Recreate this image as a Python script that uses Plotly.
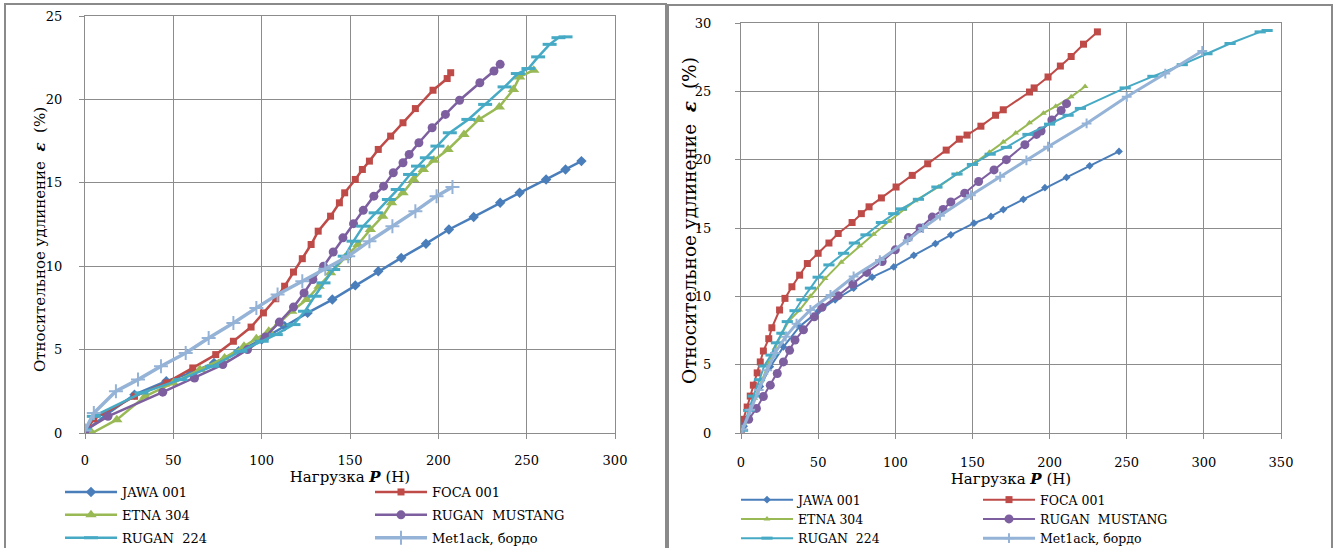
import plotly.graph_objects as go

W, H = 1339, 548

# ---------------- Left panel data ----------------
L_jawa_x = [0, 12, 28, 46, 60, 73, 87, 100, 113, 126, 140, 153, 166, 179, 193, 206, 220, 235, 246, 261, 272, 281]
L_jawa_y = [0.1, 1.1, 2.3, 3.1, 3.6, 4.2, 4.9, 5.6, 6.4, 7.2, 8.0, 8.85, 9.7, 10.5, 11.35, 12.2, 12.95, 13.8, 14.4, 15.2, 15.8, 16.3]

L_foca_x = [0, 5, 28, 46, 61, 74, 84, 94, 101, 108, 113, 118, 123, 128, 132, 139, 144, 147, 153, 157, 161, 166, 173, 180, 187, 197, 205, 207]
L_foca_y = [0, 0.85, 2.2, 3.0, 3.9, 4.7, 5.5, 6.35, 7.2, 8.05, 8.8, 9.65, 10.45, 11.3, 12.1, 13.0, 13.8, 14.4, 15.2, 15.8, 16.3, 17.0, 17.8, 18.6, 19.45, 20.55, 21.25, 21.6]

L_etna_x = [4, 18, 34, 50, 65, 79, 90, 97, 104, 110, 117, 125.5, 132.5, 139, 147, 154.5, 161.5, 168.5, 173.5, 180, 186, 191.5, 197.5, 205.5, 214.5, 223, 234.5, 242.5, 246, 254]
L_etna_y = [0, 0.8, 2.2, 3.0, 3.8, 4.5, 5.2, 5.65, 6.1, 6.6, 7.3, 8.0, 8.8, 9.6, 10.5, 11.3, 12.2, 13.0, 13.8, 14.4, 15.2, 15.8, 16.35, 17.0, 17.9, 18.8, 19.55, 20.6, 21.35, 21.75]

L_must_x = [0, 13, 44, 62, 78, 92, 102, 110, 118, 124, 129, 135, 140.5, 146, 152, 157.5, 163.5, 169, 174.5, 180, 183.5, 189, 196.5, 204, 212, 223.5, 231.5, 235]
L_must_y = [0.15, 1.0, 2.45, 3.3, 4.1, 5.0, 5.75, 6.65, 7.55, 8.4, 9.2, 10.0, 10.85, 11.7, 12.55, 13.35, 14.2, 14.8, 15.6, 16.2, 16.7, 17.4, 18.3, 19.1, 19.95, 21.0, 21.7, 22.1]

L_r224_x = [0, 5, 32, 54, 72, 88, 100, 108, 118, 124.5, 130, 135, 140.5, 147, 152, 157.5, 164.5, 172, 177, 184, 188.5, 193.5, 199.5, 206.5, 217, 226.5, 237.5, 245, 251, 256.5, 263, 268, 272]
L_r224_y = [0.2, 1.0, 2.4, 3.2, 4.0, 4.9, 5.5, 5.9, 6.5, 7.3, 8.2, 9.0, 9.8, 10.6, 11.5, 12.4, 13.2, 14.0, 14.6, 15.5, 16.0, 16.5, 17.2, 18.0, 18.8, 19.7, 20.75, 21.55, 21.85, 22.55, 23.3, 23.7, 23.75]

L_met_x = [0, 5, 17.5, 30, 43, 57, 70, 84, 97, 109, 123, 136, 149, 161, 174, 187, 199, 208]
L_met_y = [0.15, 1.2, 2.5, 3.2, 4.0, 4.8, 5.7, 6.6, 7.5, 8.3, 9.1, 9.85, 10.6, 11.5, 12.4, 13.3, 14.2, 14.75]

# ---------------- Right panel data ----------------
R_jawa_x = [0, 2, 7, 12.5, 19, 27.5, 38, 50, 61, 73, 85, 99, 112, 126, 136, 151, 162, 170, 183, 197, 211, 226, 245]
R_jawa_y = [0, 0.5, 1.95, 3.4, 4.85, 6.3, 7.8, 8.9, 9.75, 10.6, 11.4, 12.15, 13.0, 13.85, 14.5, 15.35, 15.85, 16.35, 17.1, 17.95, 18.7, 19.55, 20.6]

R_foca_x = [0, 1.5, 4, 6, 8, 10.5, 12.5, 14.5, 18, 20, 25, 28.5, 33, 38, 43, 50, 57, 63, 72, 78, 83, 91, 100.5, 111, 121, 133, 141.5, 146.5, 155.5, 165, 170, 187, 190, 199, 207, 214, 222, 231]
R_foca_y = [0.1, 1.0, 1.9, 2.7, 3.5, 4.4, 5.2, 6.0, 6.9, 7.7, 9.0, 9.85, 10.7, 11.55, 12.4, 13.15, 13.9, 14.6, 15.4, 16.05, 16.55, 17.2, 18.0, 18.85, 19.7, 20.7, 21.5, 21.8, 22.45, 23.25, 23.65, 24.95, 25.25, 26.05, 26.85, 27.55, 28.45, 29.35]

R_etna_x = [0.5, 5, 9, 13.5, 18, 22, 26.5, 31, 38, 45, 54.5, 65, 77, 86, 96, 105.5, 113, 128, 140, 152, 161, 170, 178, 187, 196, 204, 214, 223]
R_etna_y = [0, 1.2, 2.55, 3.9, 5.1, 6.2, 7.3, 8.2, 9.0, 10.0, 11.3, 12.5, 13.7, 14.55, 15.5, 16.35, 17.0, 18.0, 18.95, 19.8, 20.55, 21.3, 21.95, 22.7, 23.4, 23.9, 24.6, 25.35]

R_must_x = [0, 5, 10, 14.5, 19, 23.5, 27.5, 31.5, 35, 40.5, 47.5, 52.5, 63, 72.5, 81.5, 91.5, 100, 108.5, 116, 124, 131, 136, 145, 154, 164, 172, 184, 191.5, 194.5, 201.5, 207.5, 211]
R_must_y = [0.45, 1.0, 1.8, 2.67, 3.5, 4.35, 5.2, 6.05, 6.8, 7.55, 8.5, 9.2, 10.05, 10.9, 11.75, 12.55, 13.4, 14.3, 15.0, 15.8, 16.35, 16.9, 17.55, 18.4, 19.25, 20.0, 21.1, 21.85, 22.1, 22.9, 23.6, 24.1]

R_r224_x = [1, 5, 8, 12, 15, 19.5, 23, 26.5, 30, 35, 39.5, 45, 50, 57, 66.5, 73.5, 81, 91, 99, 104, 115, 127, 140, 150, 161.5, 172, 186, 200, 212, 220, 249, 267, 286, 302, 317, 336.5, 341]
R_r224_y = [0.2, 1.65, 2.7, 3.9, 4.9, 5.7, 6.6, 7.3, 8.15, 8.95, 9.75, 10.6, 11.4, 12.3, 13.15, 13.9, 14.5, 15.4, 16.05, 16.4, 17.1, 18.0, 18.95, 19.65, 20.4, 20.9, 21.85, 22.6, 23.25, 23.75, 25.25, 26.1, 26.95, 27.75, 28.5, 29.35, 29.45]

R_met_x = [1, 6, 11.5, 17, 22, 29, 36, 45, 58, 73, 90, 108, 118, 129, 149, 168, 185, 199, 224, 250, 275, 299]
R_met_y = [0.25, 1.7, 3.15, 4.6, 5.85, 7.05, 8.0, 9.0, 10.1, 11.45, 12.65, 14.1, 15.0, 15.9, 17.4, 18.75, 19.95, 20.95, 22.65, 24.6, 26.3, 27.95]

names = ["JAWA 001", "FOCA 001", "ETNA 304", "RUGAN  MUSTANG", "RUGAN  224", "Met1ack, бордо"]
colors = ["#4A7EBB", "#BE4B48", "#98B954", "#7D5FA0", "#46AAC5", "#95B3D7"]

x_ticks_left = [0, 50, 100, 150, 200, 250, 300]
y_ticks_left = [0, 5, 10, 15, 20, 25]
x_ticks_right = [0, 50, 100, 150, 200, 250, 300, 350]
y_ticks_right = [0, 5, 10, 15, 20, 25, 30]

FONT = "DejaVu Serif"
GRID = "#8C8C8C"

left_series = [(L_jawa_x, L_jawa_y), (L_foca_x, L_foca_y), (L_etna_x, L_etna_y),
               (L_must_x, L_must_y), (L_r224_x, L_r224_y), (L_met_x, L_met_y)]
right_series = [(R_jawa_x, R_jawa_y), (R_foca_x, R_foca_y), (R_etna_x, R_etna_y),
                (R_must_x, R_must_y), (R_r224_x, R_r224_y), (R_met_x, R_met_y)]


def marker_for(i, side):
    c = colors[i]
    big = side == "L"
    if i == 0:
        return dict(symbol="diamond", size=8 if big else 6, color=c)
    if i == 1:
        return dict(symbol="square", size=7 if big else 7, color=c)
    if i == 2:
        return dict(symbol="triangle-up", size=10 if big else 6, color=c)
    if i == 3:
        return dict(symbol="circle", size=9 if big else 9, color=c)
    if i == 4:
        return dict(symbol="line-ew", size=10 if big else 8, color=c, line=dict(width=3, color=c))
    return dict(symbol="cross-thin", size=10 if big else 7, color=c, line=dict(width=2, color=c))


fig = go.Figure()
for side, series, xa, ya in [("L", left_series, "x", "y"), ("R", right_series, "x2", "y2")]:
    for i, (xs, ys) in enumerate(series):
        lw = 2.5 if side == "L" else 2
        if i == 5:
            lw = 3.5 if side == "L" else 3
        col = i % 2
        legname = {("L", 0): "legend", ("L", 1): "legend2", ("R", 0): "legend3", ("R", 1): "legend4"}[(side, col)]
        fig.add_trace(go.Scatter(
            x=xs, y=ys, mode="lines+markers", name=names[i],
            line=dict(color=colors[i], width=lw),
            marker=marker_for(i, side),
            xaxis=xa, yaxis=ya, legend=legname,
            legendgroup=side + str(i),
        ))


def px_x(p):
    return p / W


def px_y(p):
    return 1 - p / H


axis_common = dict(
    showgrid=True, gridcolor=GRID, gridwidth=1,
    showline=True, linecolor=GRID, linewidth=1, mirror=True,
    ticks="outside", ticklen=5, tickcolor=GRID,
    zeroline=False, automargin=False,
    tickfont=dict(family=FONT, size=13, color="#000"),
)

xtitle_font = dict(family=FONT, size=15, color="#000")
xtitle = "Нагрузка <b><i>P</i></b> (Н)"
ytitle = "Относительное удлинение  <b><i>ε</i></b>  (%)"

fig.update_layout(
    width=W, height=H,
    margin=dict(l=0, r=0, t=0, b=0, autoexpand=False),
    paper_bgcolor="white", plot_bgcolor="white",
    font=dict(family=FONT, color="#000"),
    xaxis=dict(domain=[px_x(85), px_x(615)], range=[0, 300], tickvals=x_ticks_left,
               ticklabelstandoff=10, title=dict(text=xtitle, font=xtitle_font, standoff=0), anchor="y", **axis_common),
    yaxis=dict(domain=[px_y(433), px_y(16)], range=[0, 25], tickvals=y_ticks_left,
               ticklabelstandoff=14, anchor="x", **axis_common),
    xaxis2=dict(domain=[px_x(741), px_x(1281)], range=[0, 350], tickvals=x_ticks_right,
                ticklabelstandoff=12, title=dict(text=xtitle, font=xtitle_font, standoff=0), anchor="y2", **axis_common),
    yaxis2=dict(domain=[px_y(433), px_y(23)], range=[0, 30], tickvals=y_ticks_right,
                ticklabelstandoff=21, anchor="x2", **axis_common),
)

# y-axis titles placed as rotated annotations (centered where the reference has them)
fig.add_annotation(text=ytitle, textangle=-90, xref="paper", yref="paper",
                   x=px_x(40), y=px_y(240), xanchor="center", yanchor="middle", showarrow=False,
                   font=dict(family=FONT, size=15, color="#000"))
fig.add_annotation(text=ytitle, textangle=-90, xref="paper", yref="paper",
                   x=px_x(690), y=px_y(221), xanchor="center", yanchor="middle", showarrow=False,
                   font=dict(family=FONT, size=18.5, color="#000"))

leg_common = dict(orientation="v", yanchor="top", xanchor="left", bgcolor="rgba(0,0,0,0)",
                  itemwidth=52)
fig.update_layout(
    legend=dict(x=px_x(60), y=px_y(477), tracegroupgap=3, font=dict(family=FONT, size=13, color="#000"), **leg_common),
    legend2=dict(x=px_x(370), y=px_y(477), tracegroupgap=3, font=dict(family=FONT, size=13, color="#000"), **leg_common),
    legend3=dict(x=px_x(736), y=px_y(485), tracegroupgap=0, font=dict(family=FONT, size=12.5, color="#000"), **leg_common),
    legend4=dict(x=px_x(978), y=px_y(485), tracegroupgap=0, font=dict(family=FONT, size=12.5, color="#000"), **leg_common),
)

# panel frames
fig.add_shape(type="rect", xref="paper", yref="paper", x0=px_x(5), x1=px_x(666), y0=px_y(560), y1=px_y(4),
              line=dict(color="#8A8A8A", width=2), fillcolor="rgba(0,0,0,0)", layer="below")
fig.add_shape(type="rect", xref="paper", yref="paper", x0=px_x(668), x1=px_x(1332), y0=px_y(560), y1=px_y(5),
              line=dict(color="#8A8A8A", width=2), fillcolor="rgba(0,0,0,0)", layer="below")

fig.write_html("out.html", config={"displayModeBar": False},
               post_script="document.body.style.margin='0';document.body.style.overflow='hidden';")
